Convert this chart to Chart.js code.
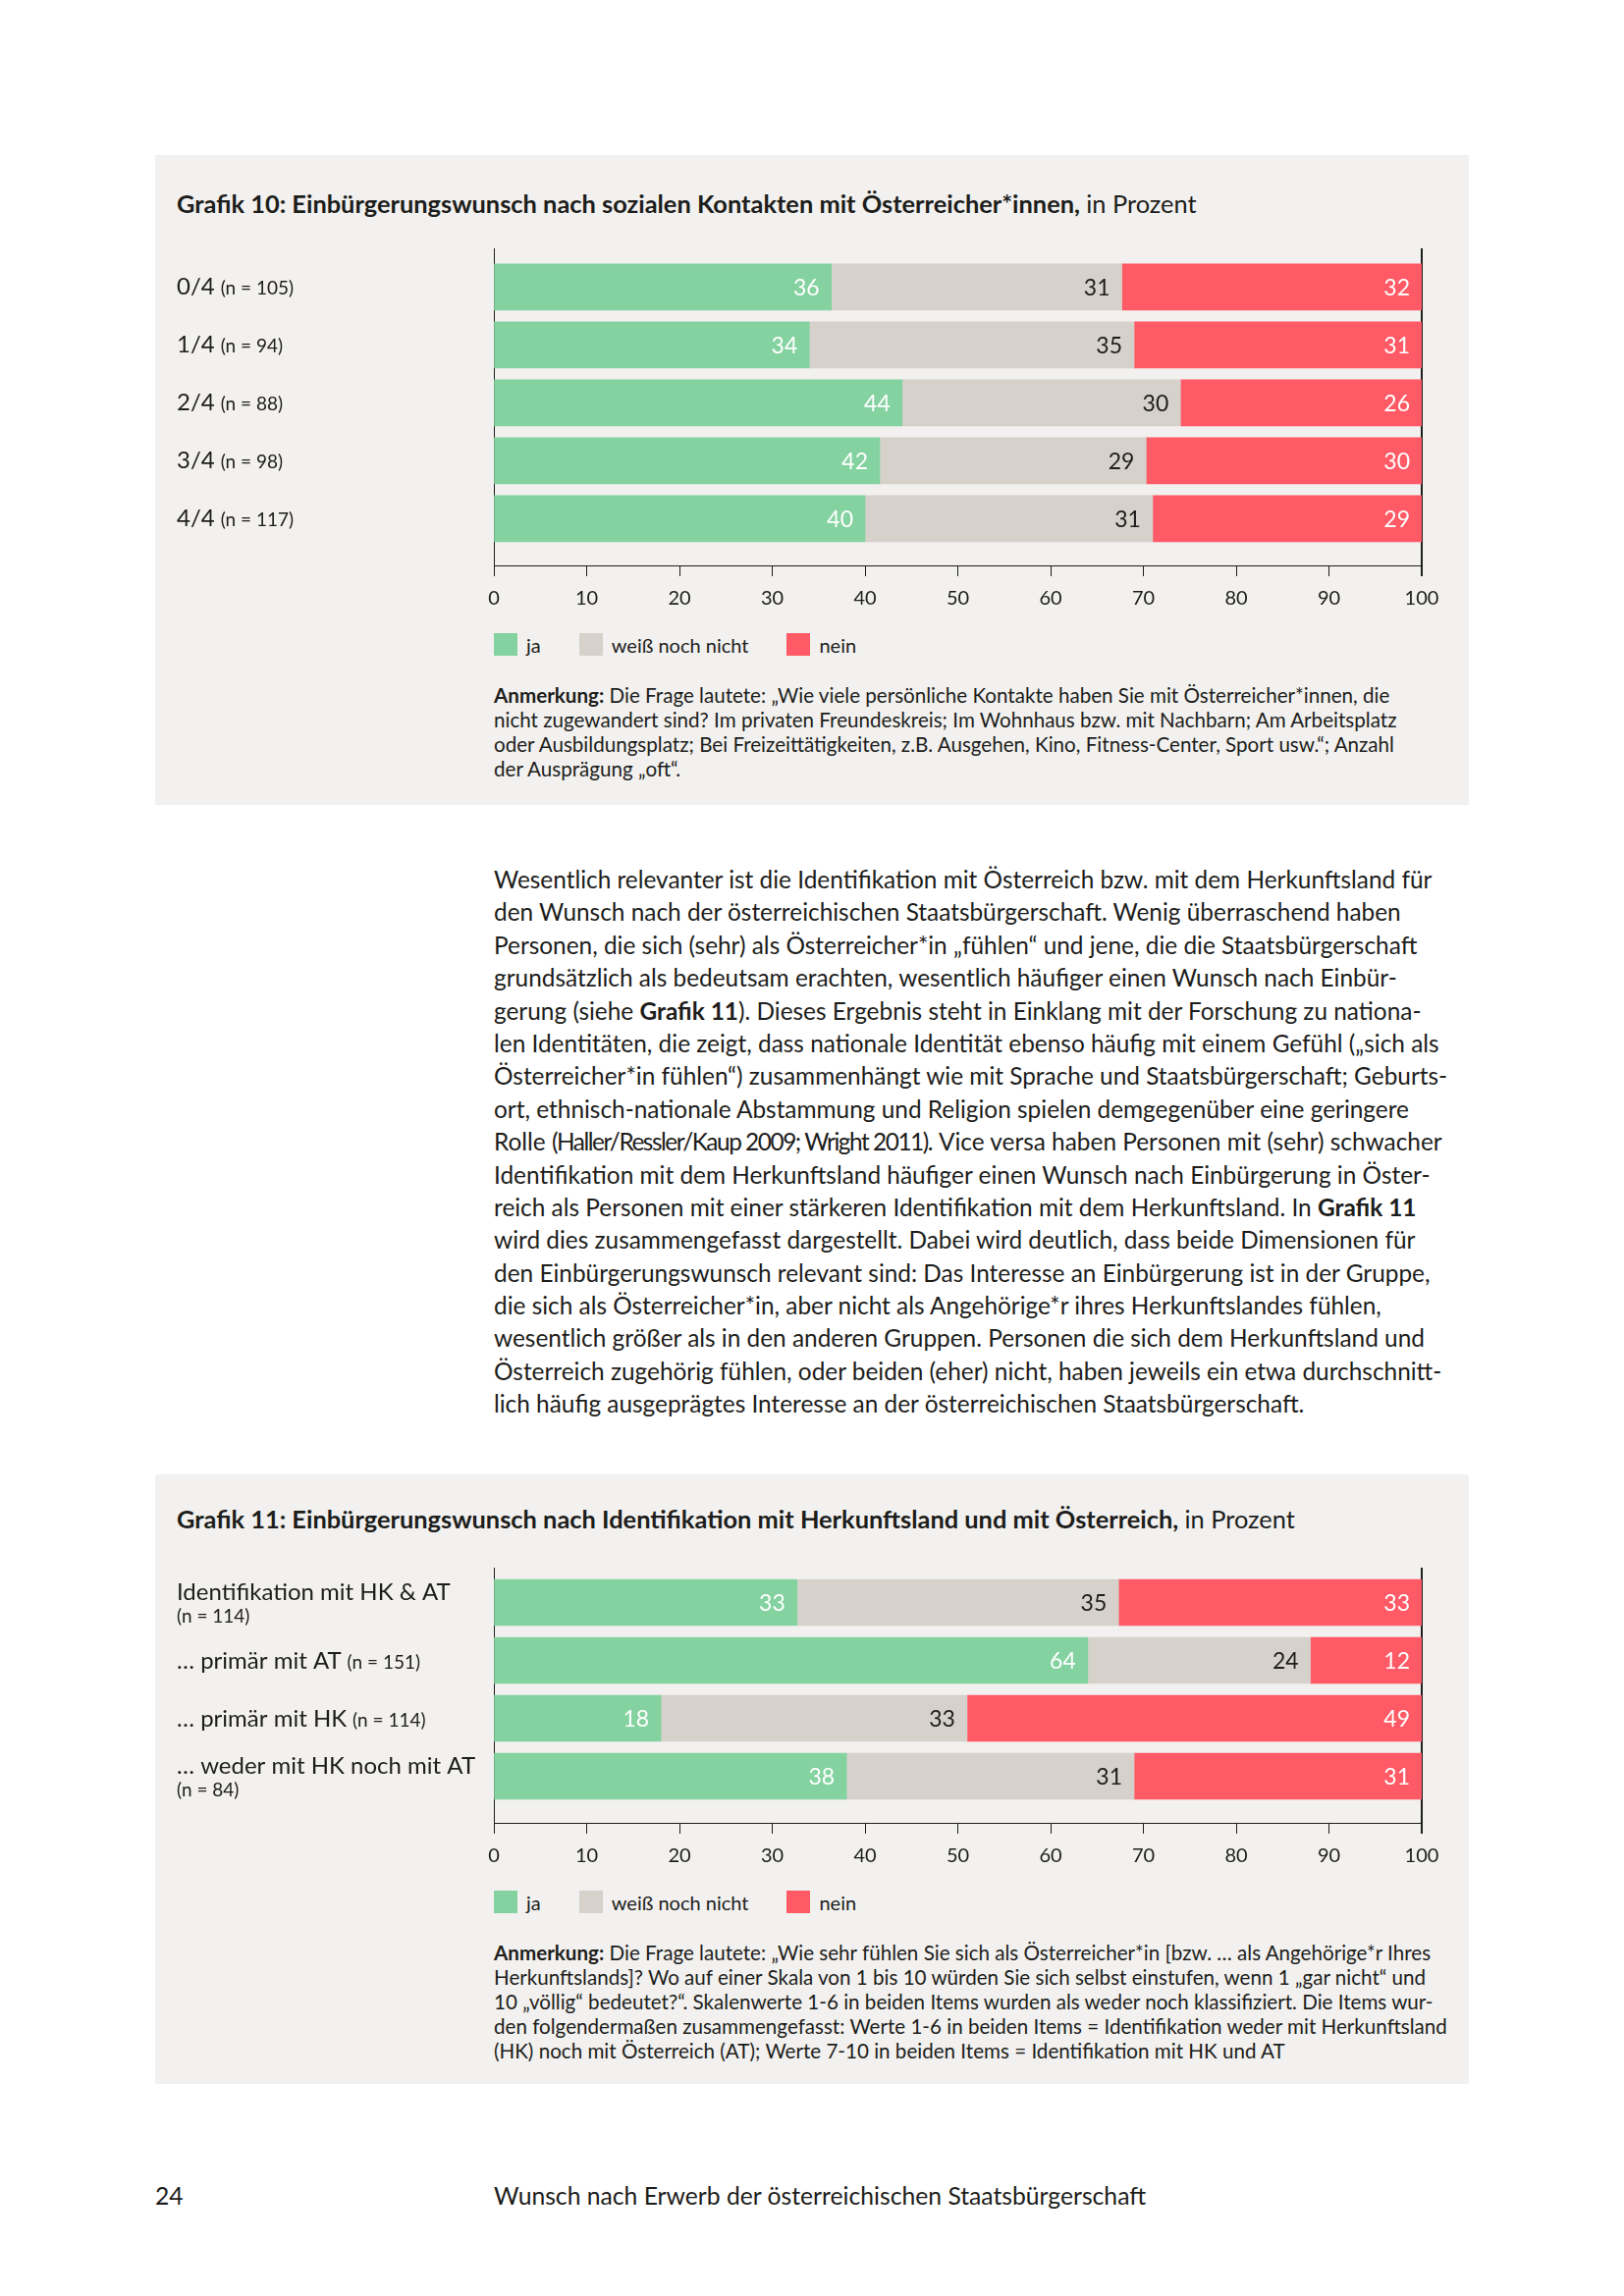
<!DOCTYPE html>
<html lang="de">
<head>
<meta charset="utf-8">
<title>Grafik 10 und 11</title>
<script src="https://cdn.jsdelivr.net/npm/chart.js@4.4.1/dist/chart.umd.min.js"></script>
<style>
body { margin:0; background:#fff; font-family: Lato, 'Open Sans', sans-serif; color:#1d1d1b; }
#page { position:relative; width:1654px; height:2339px; overflow:hidden; background:#fff; }
.box { position:absolute; left:158px; width:1338px; background:#f2f1ef; }
.abs { position:absolute; white-space:nowrap; }
.title { font-size:25.4px; line-height:30px; font-weight:700; }
.title span { font-weight:400; }
.legend { position:absolute; display:flex; align-items:center; font-size:20px; height:23px; }
.legend i { display:inline-block; width:24px; height:23px; margin-right:9px; }
.legend b { font-weight:400; margin-right:39px; }
.note div { height:25px; line-height:25px; font-size:20.6px; white-space:nowrap; }
.body div { height:33.4px; line-height:33.4px; font-size:24.4px; white-space:nowrap; }
canvas { position:absolute; left:158px; }
</style>
</head>
<body>
<div id="page">

<div class="box" style="top:158px;height:662px"></div>
<div class="abs title" style="left:180px;top:192px">Grafik 10: Einbürgerungswunsch nach sozialen Kontakten mit Österreicher*innen, <span>in Prozent</span></div>
<canvas id="chart10" width="1338" height="386" style="top:240px;width:1338px;height:386px"></canvas>
<div class="legend" id="legend10" style="left:503px;top:645px"></div>
<div class="abs note" style="left:503px;top:696px">
<div><strong>Anmerkung:</strong> Die Frage lautete: „Wie viele persönliche Kontakte haben Sie mit Österreicher*innen, die</div>
<div>nicht zugewandert sind? Im privaten Freundeskreis; Im Wohnhaus bzw. mit Nachbarn; Am Arbeitsplatz</div>
<div>oder Ausbildungsplatz; Bei Freizeittätigkeiten, z.B. Ausgehen, Kino, Fitness-Center, Sport usw.“; Anzahl</div>
<div>der Ausprägung „oft“.</div>
</div>

<div class="abs body" style="left:503px;top:879px">
<div>Wesentlich relevanter ist die Identifikation mit Österreich bzw. mit dem Herkunftsland für</div>
<div>den Wunsch nach der österreichischen Staatsbürgerschaft. Wenig überraschend haben</div>
<div>Personen, die sich (sehr) als Österreicher*in „fühlen“ und jene, die die Staatsbürgerschaft</div>
<div>grundsätzlich als bedeutsam erachten, wesentlich häufiger einen Wunsch nach Einbür-</div>
<div>gerung (siehe <strong>Grafik 11</strong>). Dieses Ergebnis steht in Einklang mit der Forschung zu nationa-</div>
<div>len Identitäten, die zeigt, dass nationale Identität ebenso häufig mit einem Gefühl („sich als</div>
<div>Österreicher*in fühlen“) zusammenhängt wie mit Sprache und Staatsbürgerschaft; Geburts-</div>
<div>ort, ethnisch-nationale Abstammung und Religion spielen demgegenüber eine geringere</div>
<div>Rolle <span style="letter-spacing:-0.06em">(Haller/Ressler/Kaup 2009; Wright 2011)</span>. Vice versa haben Personen mit (sehr) schwacher</div>
<div>Identifikation mit dem Herkunftsland häufiger einen Wunsch nach Einbürgerung in Öster-</div>
<div>reich als Personen mit einer stärkeren Identifikation mit dem Herkunftsland. In <strong>Grafik 11</strong></div>
<div>wird dies zusammengefasst dargestellt. Dabei wird deutlich, dass beide Dimensionen für</div>
<div>den Einbürgerungswunsch relevant sind: Das Interesse an Einbürgerung ist in der Gruppe,</div>
<div>die sich als Österreicher*in, aber nicht als Angehörige*r ihres Herkunftslandes fühlen,</div>
<div>wesentlich größer als in den anderen Gruppen. Personen die sich dem Herkunftsland und</div>
<div>Österreich zugehörig fühlen, oder beiden (eher) nicht, haben jeweils ein etwa durchschnitt-</div>
<div>lich häufig ausgeprägtes Interesse an der österreichischen Staatsbürgerschaft.</div>
</div>

<div class="box" style="top:1502px;height:621px"></div>
<div class="abs title" style="left:180px;top:1532px">Grafik 11: Einbürgerungswunsch nach Identifikation mit Herkunftsland und mit Österreich, <span>in Prozent</span></div>
<canvas id="chart11" width="1338" height="323" style="top:1584px;width:1338px;height:323px"></canvas>
<div class="legend" id="legend11" style="left:503px;top:1926px"></div>
<div class="abs note" style="left:503px;top:1977px">
<div><strong>Anmerkung:</strong> Die Frage lautete: „Wie sehr fühlen Sie sich als Österreicher*in [bzw. … als Angehörige*r Ihres</div>
<div>Herkunftslands]? Wo auf einer Skala von 1 bis 10 würden Sie sich selbst einstufen, wenn 1 „gar nicht“ und</div>
<div>10 „völlig“ bedeutet?“. Skalenwerte 1-6 in beiden Items wurden als weder noch klassifiziert. Die Items wur-</div>
<div>den folgendermaßen zusammengefasst: Werte 1-6 in beiden Items = Identifikation weder mit Herkunftsland</div>
<div>(HK) noch mit Österreich (AT); Werte 7-10 in beiden Items = Identifikation mit HK und AT</div>
</div>

<div class="abs" style="left:158px;top:2222px;font-size:24.7px;line-height:30px">24</div>
<div class="abs" style="left:503px;top:2222px;font-size:24.7px;line-height:30px">Wunsch nach Erwerb der österreichischen Staatsbürgerschaft</div>
</div>

<script>
// series names, shared by both charts
var seriesNames = ['ja', 'weiß noch nicht', 'nein'];
var seriesColors = ['#84d2a0', '#d6d1cb', '#ff5a65'];
var labelColors = ['#ffffff', '#1d1d1b', '#ffffff'];

// Grafik 10
var groups10 = ['0/4', '1/4', '2/4', '3/4', '4/4'];
var n10 = [105, 94, 88, 98, 117];
var ja10 = [36, 34, 44, 42, 40];
var weiss10 = [31, 35, 30, 29, 31];
var nein10 = [32, 31, 26, 30, 29];

// Grafik 11
var groups11 = ['Identifikation mit HK & AT', '… primär mit AT', '… primär mit HK', '… weder mit HK noch mit AT'];
var n11 = [114, 151, 114, 84];
var ja11 = [33, 64, 18, 38];
var weiss11 = [35, 24, 33, 31];
var nein11 = [33, 12, 49, 31];

var xTicks = [0, 10, 20, 30, 40, 50, 60, 70, 80, 90, 100];

function buildLegend(id) {
    var el = document.getElementById(id);
    for (var i = 0; i < seriesNames.length; i++) {
        var sw = document.createElement('i');
        sw.style.background = seriesColors[i];
        var tx = document.createElement('b');
        tx.textContent = seriesNames[i];
        el.appendChild(sw);
        el.appendChild(tx);
    }
}

function makeChart(id, groups, nValues, series, yMin, yMax) {
    // printed values are rounded, so bars are scaled to fill the row
    var sums = groups.map(function(g, i) {
        return series[0][i] + series[1][i] + series[2][i];
    });
    var datasets = series.map(function(values, s) {
        return {
            label: seriesNames[s],
            shown: values,
            data: values.map(function(v, i) { return { x: v / sums[i] * 100, y: i }; }),
            backgroundColor: seriesColors[s],
            borderWidth: 0,
            barThickness: 47
        };
    });

    var valueLabels = {
        id: 'valueLabels',
        afterDatasetsDraw: function(chart) {
            var ctx = chart.ctx;
            ctx.save();
            ctx.font = '23px Lato';
            ctx.textAlign = 'right';
            ctx.textBaseline = 'middle';
            chart.data.datasets.forEach(function(ds, d) {
                var meta = chart.getDatasetMeta(d);
                ctx.fillStyle = labelColors[d];
                meta.data.forEach(function(bar, i) {
                    ctx.fillText(String(ds.shown[i]), bar.x - 12, bar.y + 1);
                });
            });
            ctx.restore();
        }
    };

    var groupLabels = {
        id: 'groupLabels',
        afterDraw: function(chart) {
            var ctx = chart.ctx;
            var yScale = chart.scales.y;
            ctx.save();
            ctx.fillStyle = '#1d1d1b';
            ctx.textAlign = 'left';
            ctx.textBaseline = 'alphabetic';
            for (var i = 0; i < groups.length; i++) {
                var py = yScale.getPixelForValue(i);
                var nText = '(n = ' + nValues[i] + ')';
                ctx.font = '24px Lato';
                var mainW = ctx.measureText(groups[i]).width;
                ctx.font = '19px Lato';
                var nW = ctx.measureText(nText).width;
                if (mainW + 6 + nW > 320) {
                    ctx.font = '24px Lato';
                    ctx.fillText(groups[i], 22, py - 3);
                    ctx.font = '19px Lato';
                    ctx.fillText(nText, 22, py + 20);
                } else {
                    ctx.font = '24px Lato';
                    ctx.fillText(groups[i], 22, py + 8);
                    ctx.font = '19px Lato';
                    ctx.fillText(nText, 22 + mainW + 6, py + 8);
                }
            }
            ctx.restore();
        }
    };

    return new Chart(document.getElementById(id), {
        type: 'bar',
        data: { datasets: datasets },
        plugins: [valueLabels, groupLabels],
        options: {
            indexAxis: 'y',
            responsive: false,
            animation: false,
            events: [],
            layout: { padding: { left: 345, right: 48, top: 13, bottom: 0 } },
            plugins: { legend: { display: false }, tooltip: { enabled: false } },
            scales: {
                x: {
                    type: 'linear',
                    stacked: true,
                    min: 0,
                    max: 100,
                    offset: false,
                    afterBuildTicks: function(s) {
                        s.ticks = xTicks.map(function(v) { return { value: v }; });
                    },
                    afterFit: function(s) { s.height = 50; },
                    border: { display: true, color: '#1d1d1b', width: 1 },
                    grid: {
                        drawOnChartArea: true,
                        offset: false,
                        color: function(c) {
                            return (c.tick && c.tick.value === 100) ? '#1d1d1b' : 'rgba(0,0,0,0)';
                        },
                        lineWidth: function(c) {
                            return (c.tick && c.tick.value === 100) ? 2 : 1;
                        },
                        tickColor: '#1d1d1b',
                        tickWidth: function(c) {
                            return (c.tick && c.tick.value === 100) ? 2 : 1;
                        },
                        tickLength: 11
                    },
                    ticks: {
                        color: '#1d1d1b',
                        font: { family: 'Lato', size: 20 },
                        padding: 11,
                        maxRotation: 0
                    }
                },
                y: {
                    type: 'linear',
                    stacked: true,
                    reverse: true,
                    offset: false,
                    grace: 0,
                    min: yMin,
                    max: yMax,
                    afterFit: function(s) { s.width = 0; },
                    ticks: { display: false },
                    grid: { display: false, offset: false },
                    border: { display: true, color: '#1d1d1b', width: 1 }
                }
            }
        }
    });
}

buildLegend('legend10');
buildLegend('legend11');
makeChart('chart10', groups10, n10, [ja10, weiss10, nein10], -0.669, 4.808);
makeChart('chart11', groups11, n11, [ja11, weiss11, nein11], -0.602, 3.805);
</script>
</body>
</html>
